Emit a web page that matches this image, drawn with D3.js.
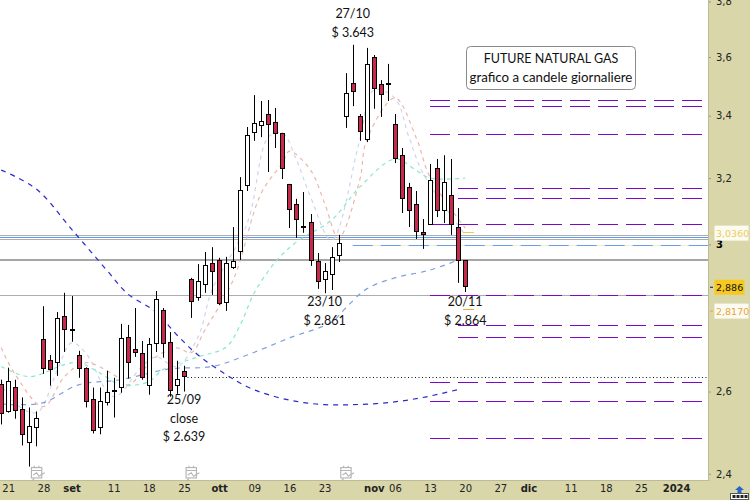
<!DOCTYPE html>
<html><head><meta charset="utf-8">
<script src="https://cdn.jsdelivr.net/npm/d3@7"></script>
<style>html,body{margin:0;padding:0;background:#fff;overflow:hidden}svg{display:block}</style>
</head><body><svg id="c" width="750" height="500"></svg>
<script>
// candles: first session Fri 18 Aug 2023, one entry per weekday
const opens=[2.620,2.552,2.612,2.555,2.476,2.513,2.737,2.682,2.676,2.798,2.762,2.694,2.661,2.580,2.510,2.575,2.605,2.612,2.742,2.710,2.700,2.617,2.726,2.815,2.729,2.617,2.653,2.901,2.850,2.887,2.946,2.955,2.837,2.935,2.981,3.179,3.347,3.369,3.406,3.379,3.343,3.181,3.120,3.055,3.066,2.952,2.901,2.915,2.969,3.399,3.510,3.399,3.324,3.600,3.507,3.511,3.373,3.272,3.172,3.120,3.037,3.060,3.232,3.102,3.148,3.051,2.954];
const highs=[2.630,2.661,2.630,2.585,2.560,2.550,2.825,2.694,2.809,2.862,2.853,2.705,2.662,2.610,2.610,2.653,2.635,2.777,2.774,2.820,2.731,2.739,2.867,2.820,2.755,2.679,2.666,2.904,2.943,2.978,2.992,2.961,2.964,3.051,3.203,3.363,3.469,3.449,3.4525,3.426,3.344,3.182,3.136,3.157,3.090,2.975,2.946,2.992,3.028,3.544,3.643,3.406,3.632,3.607,3.520,3.576,3.406,3.295,3.185,3.160,3.075,3.244,3.260,3.272,3.260,3.108,2.955];
const lows=[2.518,2.547,2.532,2.467,2.417,2.465,2.645,2.615,2.640,2.702,2.729,2.635,2.560,2.496,2.494,2.565,2.535,2.597,2.633,2.689,2.630,2.592,2.702,2.687,2.587,2.594,2.600,2.793,2.840,2.862,2.856,2.828,2.812,2.929,2.955,3.160,3.318,3.330,3.219,3.295,3.197,3.048,3.019,3.034,2.938,2.873,2.861,2.870,2.949,3.360,3.432,3.318,3.314,3.423,3.396,3.449,3.247,3.093,3.051,3.016,2.987,3.057,3.081,3.063,3.028,2.890,2.864];
const closes=[2.547,2.627,2.555,2.494,2.515,2.535,2.661,2.658,2.793,2.763,2.760,2.661,2.577,2.503,2.575,2.600,2.604,2.739,2.676,2.702,2.638,2.723,2.845,2.726,2.605,2.633,2.639,2.840,2.895,2.940,2.923,2.834,2.946,2.952,3.163,3.337,3.376,3.383,3.373,3.343,3.232,3.105,3.075,3.053,2.955,2.895,2.923,2.964,3.004,3.476,3.483,3.350,3.576,3.493,3.473,3.509,3.263,3.139,3.102,3.040,3.031,3.194,3.102,3.188,3.060,2.955,2.881];

// moving averages, read at selected sessions
const maNavyIdx=[0,5,10,15,18,22,25,28,32,35,38,42,46,50,55,60,65];
const maNavy=[3.225,3.166,3.045,2.926,2.859,2.809,2.747,2.694,2.643,2.612,2.592,2.575,2.567,2.567,2.572,2.585,2.605];
const maSteelIdx=[0,2,6,11,17,24,30,35,41,47,49,52,56,61,65];
const maSteel=[2.569,2.567,2.572,2.617,2.630,2.658,2.664,2.694,2.739,2.782,2.820,2.873,2.904,2.926,2.955];
const maTealIdx=[0,4,9,11,14,17,21,23,28,32,34,36,39,42,47,51,56,59,61,66];
const maTeal=[2.664,2.638,2.669,2.674,2.648,2.617,2.625,2.656,2.689,2.715,2.774,2.862,2.949,3.007,3.072,3.172,3.260,3.225,3.200,3.200];
const maSalmonIdx=[0,2,6,9,12,16,18,22,25,27,29,33,37,40,41,44,46,48,51,52,56,59,61,66];
const maSalmon=[2.713,2.643,2.562,2.638,2.674,2.643,2.617,2.689,2.713,2.700,2.761,2.898,3.154,3.247,3.285,3.225,3.123,3.019,3.194,3.321,3.459,3.330,3.203,3.048];
const maPaleIdx=[0,1,5,8,10,12,16,20,22,25,28,30,35,38,40,42,44,47,51,53,56,58,60,66];
const maPale=[2.630,2.587,2.547,2.656,2.726,2.700,2.587,2.664,2.689,2.664,2.742,2.870,3.063,3.330,3.343,3.257,3.142,3.013,3.321,3.486,3.459,3.330,3.215,3.028];

// horizontal levels
const longLevels=[3.454,3.432,3.339,3.060,2.856,2.624,2.575,2.484];
const shortLevels=[3.169,3.139,2.774,2.742];
const greyLines=[3.029,3.015,2.856];
const thickGrey=2.955;
const blueLine=3.022;
const blueDashed=2.999;
const dottedClose=2.636;

// axis labels
const xTickIdx=[1,6,10,16,21,26,31,36,41,46,53,56,61,66,71,75,81,86,91,96];
const xTickText=["21","28","set","11","18","25","ott","09","16","23","nov","06","13","20","27","dic","11","18","25","2024"];
const xTickBold=["set","ott","nov","dic","2024"];
const yTicks=[3.8,3.6,3.4,3.2,3,2.6,2.4];
const eventIdx=[5,27,49];

const notes=[
 {i:50,p:3.643,lines:["27/10","$ 3.643"],pos:"top"},
 {i:46,p:2.861,lines:["23/10","$ 2.861"],pos:"under"},
 {i:66,p:2.864,lines:["20/11","$ 2.864"],pos:"under"},
 {i:26,p:2.639,lines:["25/09","close","$ 2.639"],pos:"close"}
];

const W=750,H=500,PR=709,PB=481;
const x=d3.scaleLinear().domain([0,96]).range([1.2,676.1]);
const y=d3.scaleLog().domain([3.6,2.4]).range([57,473.8]);
const snap=p=>Math.round(y(p))+.5;
const svg=d3.select("#c");
const LAT="Lato,'Open Sans',sans-serif";
const DJV="'DejaVu Sans',sans-serif";

svg.append("defs").append("clipPath").attr("id","pc").append("rect").attr("width",PR).attr("height",PB);
const g=svg.append("g").attr("clip-path","url(#pc)");

// horizontal grey / blue lines
g.selectAll(".gl").data(greyLines).join("line").attr("x1",0).attr("x2",PR)
 .attr("y1",snap).attr("y2",snap).attr("stroke","#adadad").attr("stroke-width",1);
g.append("line").attr("x1",0).attr("x2",PR).attr("y1",Math.round(y(thickGrey))).attr("y2",Math.round(y(thickGrey))).attr("stroke","#a6a6a6").attr("stroke-width",2);
g.append("line").attr("x1",0).attr("x2",PR).attr("y1",snap(blueLine)).attr("y2",snap(blueLine)).attr("stroke","#5b9bee").attr("stroke-width",1);
g.append("line").attr("x1",x(50)).attr("x2",PR).attr("y1",snap(blueDashed)).attr("y2",snap(blueDashed)).attr("stroke","#f1f1c8").attr("stroke-width",1);
g.append("line").attr("x1",x(50)).attr("x2",PR).attr("y1",snap(blueDashed)).attr("y2",snap(blueDashed)).attr("stroke","#6a9ee8").attr("stroke-width",1).attr("stroke-dasharray","20,8");
g.append("line").attr("x1",x(26)).attr("x2",PR).attr("y1",snap(dottedClose)).attr("y2",snap(dottedClose)).attr("stroke","#111").attr("stroke-width",1).attr("stroke-dasharray","1,2.5");

// purple levels
const lvl=(arr,start)=>g.selectAll(null).data(arr).join("line").attr("x1",start).attr("x2",702)
 .attr("y1",snap).attr("y2",snap).attr("stroke","#7a08c8").attr("stroke-width",1).attr("stroke-dasharray","20,8");
lvl(longLevels,430); lvl(shortLevels,458);

// moving averages
const lineGen=(idx,vals)=>d3.line().curve(d3.curveCatmullRom.alpha(0.5)).x(d=>x(d)).y((d,i)=>y(vals[i]))(idx);
const ma=(idx,vals,col,w,dash)=>g.append("path").attr("d",lineGen(idx,vals)).attr("fill","none").attr("stroke",col).attr("stroke-width",w).attr("stroke-dasharray",dash);
ma(maPaleIdx,maPale,"#ccd6ef",1.2,"4,4");
ma(maSalmonIdx,maSalmon,"#ecb7aa",1.2,"4,4");
ma(maTealIdx,maTeal,"#84e8cf",1.2,"4,4");
ma(maSteelIdx,maSteel,"#7f9fdc",1.2,"5,5");
ma(maNavyIdx,maNavy,"#2a2ac8",1.2,"5,5");

// small level marks
g.append("line").attr("x1",463).attr("x2",474).attr("y1",snap(3.036)).attr("y2",snap(3.036)).attr("stroke","#f2c84b").attr("stroke-width",1);
g.append("line").attr("x1",463).attr("x2",474).attr("y1",snap(2.817)).attr("y2",snap(2.817)).attr("stroke","#f0a93a").attr("stroke-width",1);

// candles
const idx=d3.range(opens.length);
g.selectAll(".wick").data(idx).join("line").attr("x1",i=>Math.round(x(i))+.5).attr("x2",i=>Math.round(x(i))+.5)
 .attr("y1",i=>y(highs[i])).attr("y2",i=>y(lows[i])).attr("stroke","#000").attr("stroke-width",1);
g.selectAll(".body").data(idx).join("rect")
 .attr("x",i=>Math.round(x(i))-1.5).attr("width",4)
 .attr("y",i=>Math.round(y(Math.max(opens[i],closes[i])))+.5)
 .attr("height",i=>Math.max(1,Math.round(Math.abs(y(opens[i])-y(closes[i])))))
 .attr("fill",i=>closes[i]<opens[i]?"#c8284a":"#fff").attr("stroke","#000").attr("stroke-width",1);

// axis panels
svg.append("rect").attr("x",PR).attr("y",0).attr("width",W-PR).attr("height",H).attr("fill","#d9d6aa");
svg.append("rect").attr("x",0).attr("y",PB).attr("width",W).attr("height",H-PB).attr("fill","#d9d6aa");
svg.append("line").attr("x1",0).attr("x2",PR+.5).attr("y1",PB-.5).attr("y2",PB-.5).attr("stroke","#bdbb98");
svg.append("line").attr("x1",PR-.5).attr("x2",PR-.5).attr("y1",0).attr("y2",PB).attr("stroke","#bdbb98");

// x axis
const xa=d3.axisBottom(x).tickValues(xTickIdx).tickSize(0).tickPadding(0).tickFormat((d,i)=>xTickText[i]);
const xg=svg.append("g").attr("transform",`translate(0,${PB+4})`).call(xa);
xg.select(".domain").remove();
xg.selectAll("text").attr("font-family",DJV).attr("font-size",10).attr("fill","#222")
 .attr("font-weight",(d,i)=>xTickBold.includes(xTickText[i])?"bold":"normal");

// y axis
const ya=d3.axisRight(y).tickValues(yTicks).tickSize(2).tickPadding(5).tickFormat(d=>String(d).replace(".",","));
const yg=svg.append("g").attr("transform",`translate(${PR},0)`).call(ya);
yg.select(".domain").remove();
yg.selectAll("line").attr("stroke","#999");
yg.selectAll("text").attr("font-family",DJV).attr("font-size",10).attr("fill",d=>d===3?"#000":"#222").attr("font-weight",d=>d===3?"bold":"normal");

// price tags
const tags=[
 {p:3.036,t:"3,0360",bg:"#fbfbf2",fg:"#eecb55",dy:1,w:34},
 {p:2.886,t:"2,886",bg:"#f7c91e",fg:"#111",dy:3,w:30},
 {p:2.817,t:"2,8170",bg:"#fbfbf2",fg:"#eda33c",dy:2,w:34}
];
const tg=svg.append("g").selectAll("g").data(tags).join("g")
 .attr("transform",d=>`translate(714,${y(d.p)+d.dy})`);
tg.append("line").attr("x1",-4).attr("x2",-1).attr("y1",0).attr("y2",0).attr("stroke",d=>d.fg);
tg.append("rect").attr("x",0.5).attr("y",-7.5).attr("width",d=>d.w).attr("height",15).attr("fill",d=>d.bg);
tg.append("text").attr("x",2).attr("y",3.6).attr("font-family",DJV).attr("font-size",9.5).attr("fill",d=>d.fg).text(d=>d.t);

// title box
svg.append("rect").attr("x",466.5).attr("y",46.5).attr("width",169).attr("height",43).attr("rx",4).attr("fill","#fff").attr("stroke","#8a8a8a");
const box=[["FUTURE NATURAL GAS",63,12.5],["grafico a candele giornaliere",82,13.3]];
svg.selectAll(".bx").data(box).join("text").attr("x",551).attr("y",d=>d[1]).attr("text-anchor","middle")
 .attr("font-family",LAT).attr("font-size",d=>d[2]).attr("fill","#111").text(d=>d[0]);

// annotations
const noteY={top:18,under:306,close:404};
notes.forEach(n=>{
 n.lines.forEach((t,k)=>{
  svg.append("text").attr("x",x(n.i)).attr("y",noteY[n.pos]+k*18.5).attr("text-anchor","middle")
   .attr("font-family",LAT).attr("font-size",12.5).attr("fill","#111").text(t);
 });
});

// event icons
const ev=svg.append("g").selectAll("g").data(eventIdx).join("g").attr("transform",d=>`translate(${x(d)-5.5},467)scale(1.15)`)
 .attr("fill","none").attr("stroke","#b5b5b5").attr("stroke-width",1);
ev.append("rect").attr("x",.5).attr("y",.5).attr("width",9).attr("height",9);
ev.append("path").attr("d","M.5 3H9.5M3 .5V-1M7 .5V-1M2 7L5 5L7 8L12 5");
ev.append("path").attr("d","M3 10L1 12");

// corner button
const bt=svg.append("g").attr("transform","translate(730,486)");
bt.append("rect").attr("x",.5).attr("y",7.5).attr("width",18).attr("height",6).attr("fill","#fff").attr("stroke","#555");
bt.selectAll(null).data([3,7,11,15]).join("rect").attr("x",d=>d-.5).attr("y",9).attr("width",3).attr("height",3).attr("fill","#222");
bt.append("path").attr("d","M9.5 0L14 4H11.5V7H7.5V4H5Z").attr("fill","#2467c7");
</script></body></html>
